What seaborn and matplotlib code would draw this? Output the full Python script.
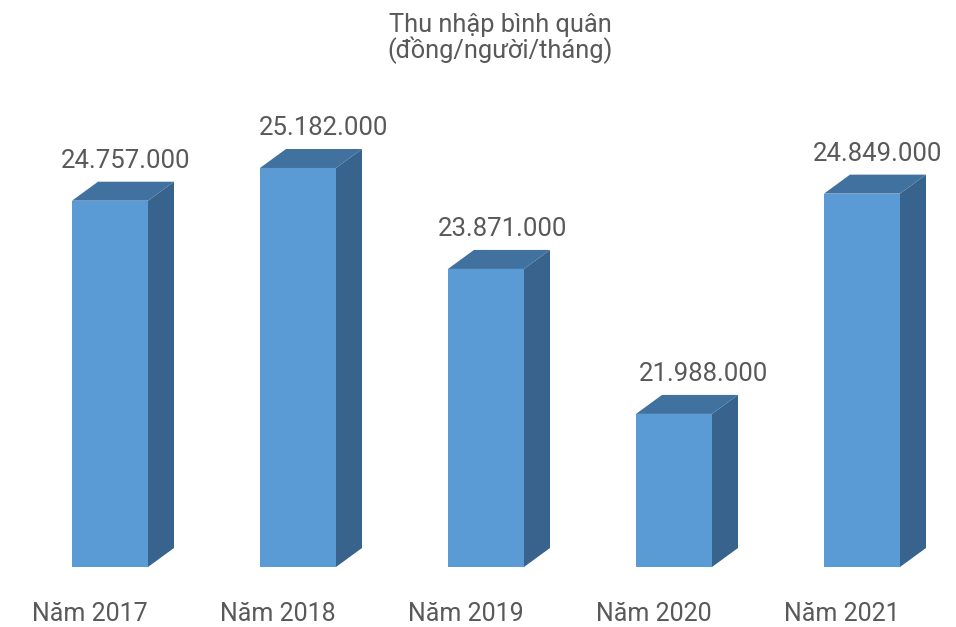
import matplotlib
matplotlib.use("Agg")
import matplotlib.pyplot as plt
import matplotlib.transforms as mtransforms
from matplotlib.patches import Polygon
import seaborn as sns
import pandas as pd

# Data
years = ["Năm 2017", "Năm 2018", "Năm 2019", "Năm 2020", "Năm 2021"]
income = [24757000, 25182000, 23871000, 21988000, 24849000]
value_labels = ["24.757.000", "25.182.000", "23.871.000", "21.988.000", "24.849.000"]
title_lines = ["Thu nhập bình quân", "(đồng/người/tháng)"]

# Style
FRONT = "#5B9BD5"
TOP = "#41719F"
SIDE = "#38638C"
TEXT = "#595959"
DEPTH_X, DEPTH_Y = 26, 19          # pixel offsets of the extruded faces
label_dx = [16, 26, 17, 30, 16]    # horizontal nudges of value labels (px)

sns.set_theme(style="white")
plt.rcParams["font.family"] = ["Roboto", "DejaVu Sans"]

W, H, DPI = 956, 627, 100
fig = plt.figure(figsize=(W / DPI, H / DPI), dpi=DPI)
ax = fig.add_axes([16 / W, (H - 567) / H, 940 / W, 462 / H])

df = pd.DataFrame({"year": years, "income": income})
sns.barplot(data=df, x="year", y="income", color=FRONT, saturation=1,
            width=76 / 188, linewidth=0, ax=ax, zorder=3)

ax.set_xlim(-0.5, 4.5)
ax.set_ylim(20000000, 26000000)
base = 20000000

for s in ax.spines.values():
    s.set_visible(False)
ax.set_yticks([])
ax.set_xlabel("")
ax.set_ylabel("")
ax.tick_params(axis="x", length=0, pad=25, labelsize=18, labelcolor=TEXT)
shift = mtransforms.ScaledTranslation(-20 / DPI, 0, fig.dpi_scale_trans)
for lbl in ax.get_xticklabels():
    lbl.set_transform(lbl.get_transform() + shift)

fig.canvas.draw()
to_px = ax.transData
to_data = ax.transData.inverted()

def shifted(x, y):
    px, py = to_px.transform((x, y))
    return to_data.transform((px + DEPTH_X, py + DEPTH_Y))

for i, bar in enumerate(ax.patches):
    xl = bar.get_x()
    xr = xl + bar.get_width()
    top = bar.get_height()
    xr2, top2 = shifted(xr, top)
    xl2, _ = shifted(xl, top)
    _, base2 = shifted(xr, base)
    side = Polygon([(xr, base), (xr2, base2), (xr2, top2), (xr, top)],
                   closed=True, facecolor=SIDE, edgecolor="none",
                   zorder=3, clip_on=False)
    topf = Polygon([(xl, top), (xl2, top2), (xr2, top2), (xr, top)],
                   closed=True, facecolor=TOP, edgecolor="none",
                   zorder=3, clip_on=False)
    ax.add_patch(side)
    ax.add_patch(topf)

    cx = xl + bar.get_width() / 2
    off = mtransforms.offset_copy(ax.transData, fig=fig,
                                  x=label_dx[i], y=DEPTH_Y + 14, units="dots")
    ax.text(cx, top, value_labels[i], transform=off, ha="center",
            va="baseline", fontsize=18.5, color=TEXT, clip_on=False)

fig.text(500 / W, 1 - 32 / H, title_lines[0], ha="center", va="baseline",
         fontsize=18.3, color=TEXT)
fig.text(500 / W, 1 - 58 / H, title_lines[1], ha="center", va="baseline",
         fontsize=18.3, color=TEXT)

fig.savefig("out.png", dpi=DPI, facecolor="white")
